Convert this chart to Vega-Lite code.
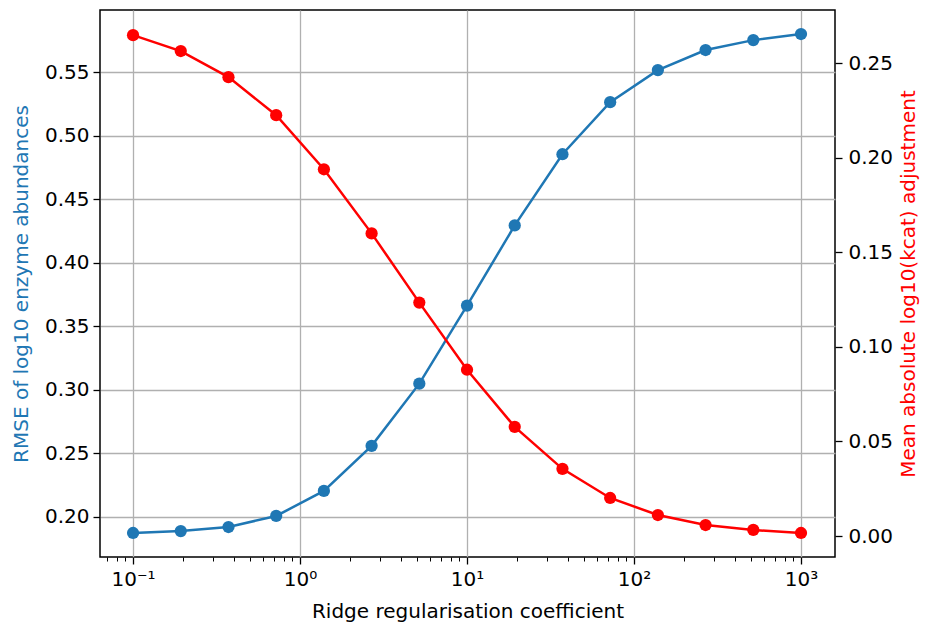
{
  "$schema": "https://vega.github.io/schema/vega-lite/v6.json",
  "width": 735,
  "height": 547,
  "autosize": {"type": "none"},
  "padding": {"left": 100, "top": 10, "right": 92, "bottom": 71},
  "background": "white",
  "config": {
    "view": {"stroke": "#000000", "strokeWidth": 1.5},
    "font": "DejaVu Sans",
    "axis": {
      "labelFont": "DejaVu Sans",
      "titleFont": "DejaVu Sans",
      "labelFontSize": 20,
      "titleFontSize": 20,
      "titleFontWeight": "normal",
      "labelColor": "#000000",
      "tickColor": "#000000",
      "tickWidth": 1.3,
      "tickSize": 7,
      "domain": false,
      "gridColor": "#b0b0b0",
      "gridWidth": 1.3,
      "gridOpacity": 1
    }
  },
  "data": {
    "values": [
      {"lam": 0.1, "rmse": 0.1874, "adj": 0.2648},
      {"lam": 0.1931, "rmse": 0.1889, "adj": 0.2564},
      {"lam": 0.3728, "rmse": 0.1921, "adj": 0.2426},
      {"lam": 0.7197, "rmse": 0.2008, "adj": 0.2225},
      {"lam": 1.3895, "rmse": 0.2205, "adj": 0.1939},
      {"lam": 2.6827, "rmse": 0.2560, "adj": 0.1600},
      {"lam": 5.1795, "rmse": 0.3049, "adj": 0.1234},
      {"lam": 10.0, "rmse": 0.3663, "adj": 0.0879},
      {"lam": 19.307, "rmse": 0.4294, "adj": 0.0577},
      {"lam": 37.276, "rmse": 0.4854, "adj": 0.0355},
      {"lam": 71.969, "rmse": 0.5264, "adj": 0.0201},
      {"lam": 138.95, "rmse": 0.5516, "adj": 0.0111},
      {"lam": 268.27, "rmse": 0.5674, "adj": 0.0058},
      {"lam": 517.95, "rmse": 0.5752, "adj": 0.0032},
      {"lam": 1000.0, "rmse": 0.5800, "adj": 0.0016}
    ]
  },
  "layer": [
    {
      "mark": {"type": "rule", "opacity": 0},
      "encoding": {
        "x": {
          "field": "lam",
          "type": "quantitative",
          "scale": {"type": "log", "domain": [0.0634, 1598]},
          "axis": {
            "orient": "bottom",
            "values": [0.07, 0.08, 0.09, 0.2, 0.3, 0.4, 0.5, 0.6, 0.7, 0.8, 0.9, 2, 3, 4, 5, 6, 7, 8, 9, 20, 30, 40, 50, 60, 70, 80, 90, 200, 300, 400, 500, 600, 700, 800, 900],
            "labels": false,
            "tickSize": 4,
            "tickWidth": 1,
            "grid": false,
            "title": null
          }
        }
      }
    },
    {
      "mark": {"type": "line", "color": "#1f77b4", "strokeWidth": 2.5, "point": {"filled": true, "size": 150, "color": "#1f77b4", "opacity": 1}},
      "encoding": {
        "x": {
          "field": "lam",
          "type": "quantitative",
          "scale": {"type": "log", "domain": [0.0634, 1598]},
          "axis": {
            "orient": "bottom",
            "values": [0.1, 1, 10, 100, 1000],
            "labelExpr": "datum.value < 0.5 ? '10⁻¹' : datum.value < 5 ? '10⁰' : datum.value < 50 ? '10¹' : datum.value < 500 ? '10²' : '10³'",
            "grid": true,
            "labelPadding": 5,
            "title": "Ridge regularisation coefficient",
            "titlePadding": 12
          }
        },
        "y": {
          "field": "rmse",
          "type": "quantitative",
          "scale": {"domain": [0.1685, 0.5989], "nice": false, "zero": false},
          "axis": {
            "orient": "left",
            "values": [0.2, 0.25, 0.3, 0.35, 0.4, 0.45, 0.5, 0.55],
            "format": ".2f",
            "grid": true,
            "labelPadding": 4,
            "title": "RMSE of log10 enzyme abundances",
            "titleColor": "#1f77b4",
            "titlePadding": 13
          }
        }
      }
    },
    {
      "mark": {"type": "line", "color": "#ff0000", "strokeWidth": 2.5, "point": {"filled": true, "size": 150, "color": "#ff0000", "opacity": 1}},
      "encoding": {
        "x": {
          "field": "lam",
          "type": "quantitative",
          "scale": {"type": "log", "domain": [0.0634, 1598]},
          "axis": null
        },
        "y": {
          "field": "adj",
          "type": "quantitative",
          "scale": {"domain": [-0.0111, 0.2781], "nice": false, "zero": false},
          "axis": {
            "orient": "right",
            "values": [0, 0.05, 0.1, 0.15, 0.2, 0.25],
            "format": ".2f",
            "grid": false,
            "labelPadding": 6,
            "title": "Mean absolute log10(kcat) adjustment",
            "titleColor": "#ff0000",
            "titleAngle": 270,
            "titleBaseline": "top",
            "titlePadding": 6
          }
        }
      }
    }
  ],
  "resolve": {"scale": {"y": "independent"}, "axis": {"x": "independent"}}
}
